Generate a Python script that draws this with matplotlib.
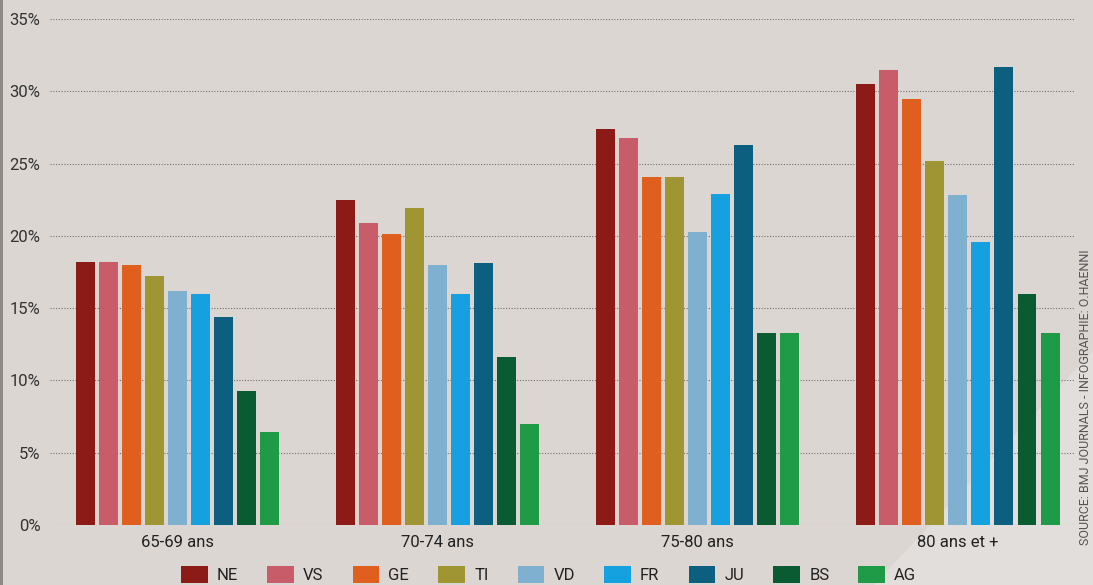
import numpy as np
import matplotlib
matplotlib.use("Agg")
import matplotlib.pyplot as plt
from matplotlib.patches import Polygon

# data
groups = ["65-69 ans", "70-74 ans", "75-80 ans", "80 ans et +"]
cantons = ["NE", "VS", "GE", "TI", "VD", "FR", "JU", "BS", "AG"]
values = {
    "NE": [18.2, 22.5, 27.4, 30.5],
    "VS": [18.2, 20.9, 26.8, 31.5],
    "GE": [18.0, 20.1, 24.1, 29.5],
    "TI": [17.2, 21.9, 24.1, 25.2],
    "VD": [16.2, 18.0, 20.3, 22.8],
    "FR": [16.0, 16.0, 22.9, 19.6],
    "JU": [14.4, 18.1, 26.3, 31.7],
    "BS": [9.3, 11.6, 13.3, 16.0],
    "AG": [6.4, 7.0, 13.3, 13.3],
}
colors = ["#8c1a17", "#c95c69", "#e05f1f", "#a09533", "#7fb0cf",
          "#15a0df", "#0c5f7e", "#0a5a32", "#1f9a46"]
yticks = [0, 5, 10, 15, 20, 25, 30, 35]

plt.rcParams["font.family"] = ["Roboto", "DejaVu Sans"]

bg = "#dbd6d2"
fig = plt.figure(figsize=(10.93, 5.85), dpi=100, facecolor=bg)

# subtle lighter wedge in the lower right, thin dark edge on the left
fig.patches.append(Polygon([(0.80, 0.0), (1.0, 0.0), (1.0, 0.40)], closed=True,
                           transform=fig.transFigure, facecolor="#e1dedb",
                           edgecolor="none", zorder=-10))
fig.patches.append(Polygon([(0.0, 0.0), (0.003, 0.0), (0.003, 1.0), (0.0, 1.0)],
                           closed=True, transform=fig.transFigure,
                           facecolor="#8f8a86", edgecolor="none", zorder=-10))

ax = fig.add_axes([50 / 1093, 60 / 585, 1025 / 1093, 506 / 585])
ax.set_facecolor("none")

x = np.arange(len(groups))
pitch = 0.0885
width = 0.073
for i, (c, col) in enumerate(zip(cantons, colors)):
    ax.bar(x + (i - 4) * pitch, values[c], width=width, color=col, label=c, zorder=3)

ax.set_xlim(-0.49, 3.45)
ax.set_ylim(0, 35)
ax.set_yticks(yticks)
ax.set_yticklabels([f"{v}%" for v in yticks], fontsize=12, color="#333333")
ax.set_xticks(x)
ax.set_xticklabels(groups, fontsize=12, color="#222222")
ax.tick_params(axis="both", length=0)
ax.tick_params(axis="y", pad=7)
ax.tick_params(axis="x", pad=7)
ax.yaxis.grid(True, linestyle=(0, (1, 1.5)), color="#77726e", linewidth=0.8, zorder=1)
ax.set_axisbelow(True)
for s in ax.spines.values():
    s.set_visible(False)

leg = fig.legend(loc="lower center", ncol=9, bbox_to_anchor=(0.502, -0.022),
                 frameon=False, fontsize=12, handlelength=1.6, handleheight=1.2,
                 columnspacing=1.75, handletextpad=0.55)
for t in leg.get_texts():
    t.set_color("#222222")

fig.text(0.9935, 0.068, "SOURCE: BMJ JOURNALS - INFOGRAPHIE: O.HAENNI", rotation=90,
         fontsize=9, color="#555555", ha="center", va="bottom")

fig.savefig("out.png", dpi=100, facecolor=bg)
